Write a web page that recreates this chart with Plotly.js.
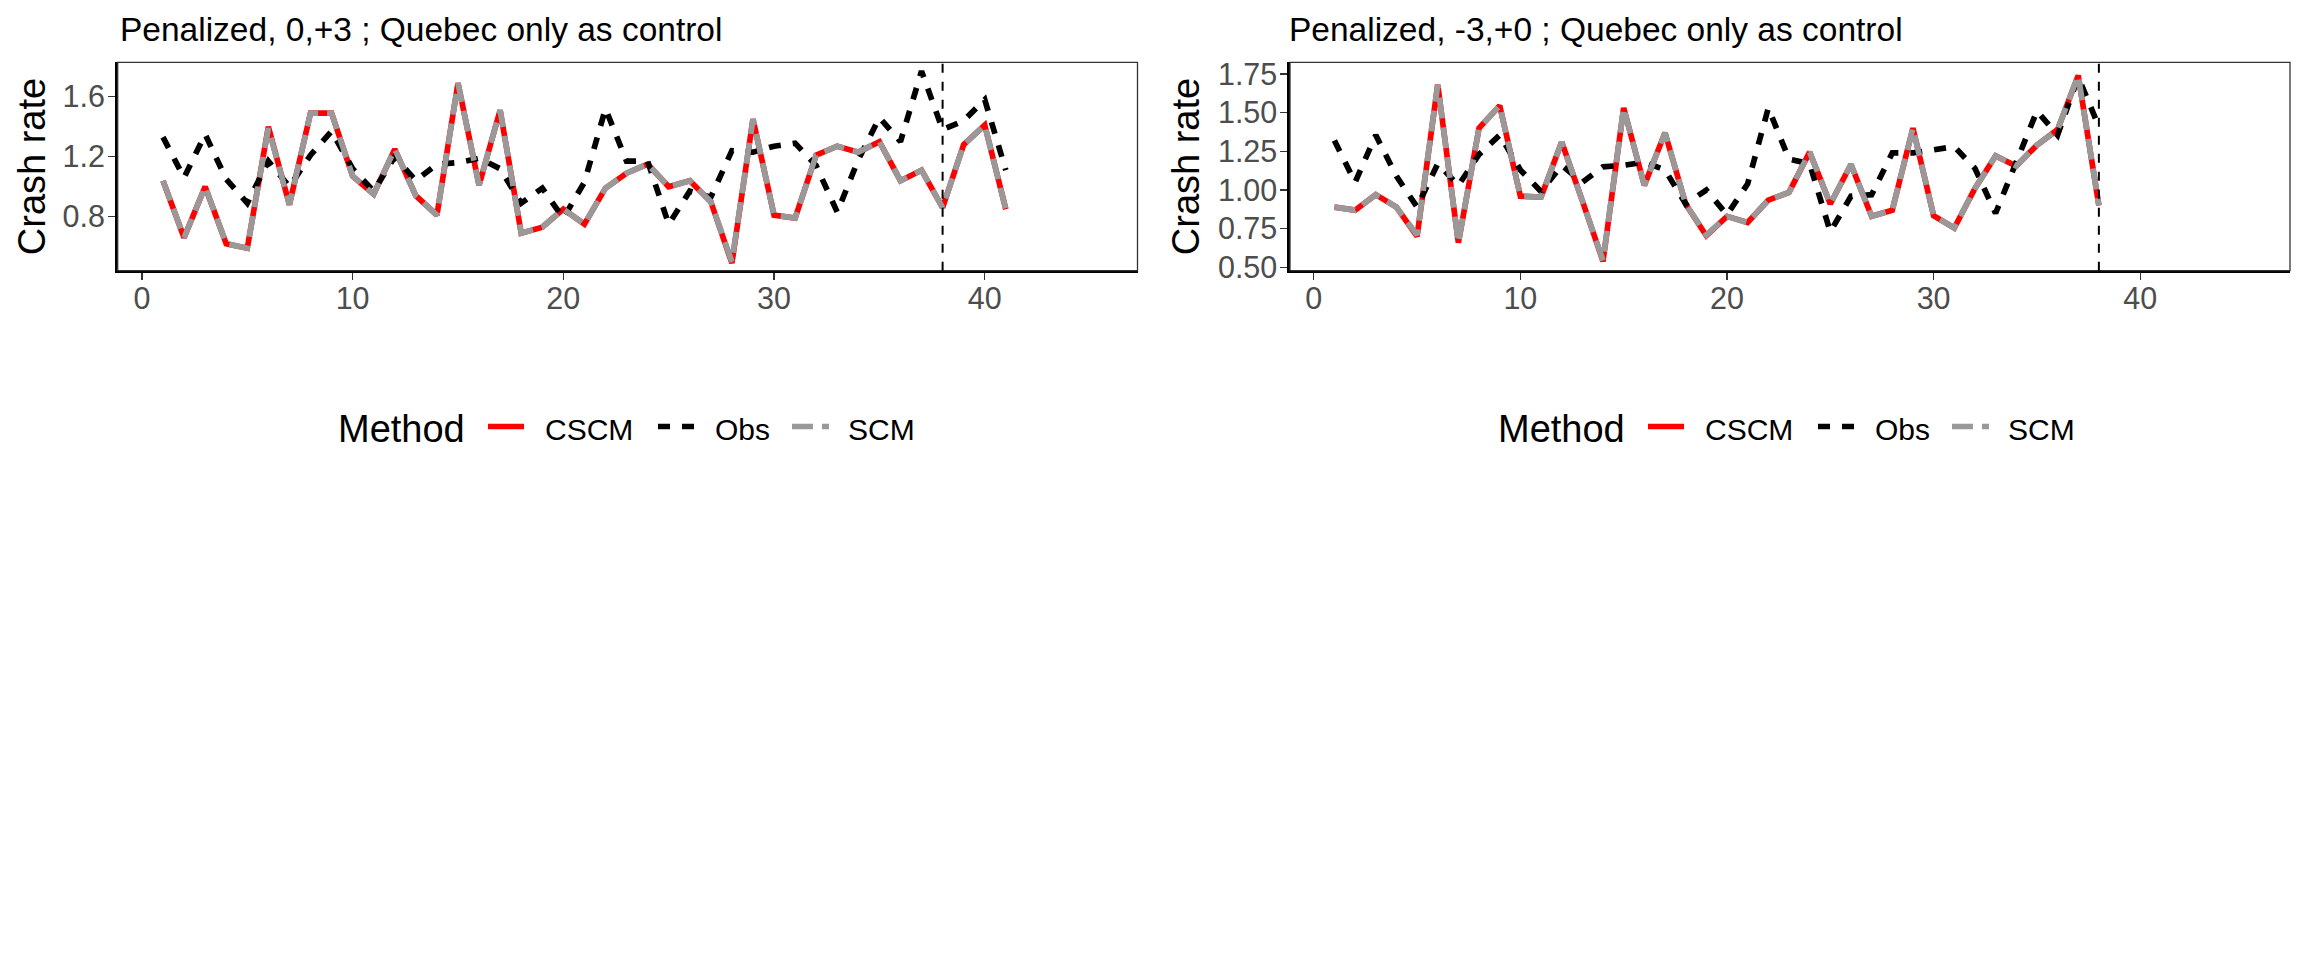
<!DOCTYPE html>
<html>
<head>
<meta charset="utf-8">
<script src="https://cdn.plot.ly/plotly-3.0.1.min.js"></script>
<style>
html,body{margin:0;padding:0;background:#ffffff;}
#chart{width:2304px;height:960px;}
</style>
</head>
<body>
<div id="chart"></div>
<script>
// ---------- data ----------
const titleA = "Penalized, 0,+3 ; Quebec only as control";
const titleB = "Penalized, -3,+0 ; Quebec only as control";
const yTitle = "Crash rate";
const legendTitle = "Method";
const methods = ["CSCM", "Obs", "SCM"];

const timeA = [1,2,3,4,5,6,7,8,9,10,11,12,13,14,15,16,17,18,19,20,21,22,23,24,25,26,27,28,29,30,31,32,33,34,35,36,37,38,39,40,41];
const cscmA = [1.04,0.66,1.00,0.62,0.59,1.40,0.88,1.49,1.49,1.07,0.95,1.25,0.94,0.81,1.69,1.01,1.51,0.69,0.73,0.85,0.75,0.99,1.09,1.15,1.00,1.04,0.90,0.49,1.45,0.81,0.79,1.21,1.27,1.23,1.30,1.04,1.11,0.86,1.28,1.41,0.85];
const obsA  = [1.33,1.06,1.35,1.05,0.89,1.17,1.00,1.21,1.37,1.12,0.97,1.20,1.04,1.15,1.16,1.19,1.12,0.89,0.99,0.79,1.03,1.52,1.17,1.17,0.75,0.97,0.93,1.24,1.23,1.27,1.29,1.14,0.83,1.18,1.46,1.30,1.77,1.38,1.44,1.58,1.11];
const scmA  = [1.04,0.66,1.00,0.62,0.59,1.39,0.88,1.49,1.49,1.07,0.95,1.25,0.94,0.81,1.69,1.01,1.51,0.69,0.73,0.85,0.75,0.99,1.09,1.15,1.00,1.04,0.90,0.50,1.45,0.81,0.79,1.21,1.27,1.23,1.30,1.04,1.11,0.86,1.28,1.41,0.85];

const timeB = [1,2,3,4,5,6,7,8,9,10,11,12,13,14,15,16,17,18,19,20,21,22,23,24,25,26,27,28,29,30,31,32,33,34,35,36,37,38];
const cscmB = [0.89,0.87,0.97,0.89,0.70,1.68,0.66,1.40,1.545,0.96,0.955,1.31,0.93,0.54,1.53,1.03,1.37,0.91,0.705,0.83,0.79,0.935,0.985,1.245,0.91,1.165,0.83,0.87,1.40,0.835,0.755,1.01,1.22,1.155,1.29,1.39,1.74,0.90];
const obsB  = [1.32,1.05,1.355,1.09,0.89,1.17,1.03,1.23,1.355,1.13,0.99,1.16,1.05,1.15,1.16,1.18,1.13,0.91,1.00,0.84,1.04,1.53,1.20,1.17,0.73,0.96,0.97,1.24,1.24,1.26,1.28,1.14,0.85,1.18,1.51,1.355,1.73,1.41];
const scmB  = [0.89,0.87,0.97,0.89,0.71,1.68,0.66,1.40,1.545,0.96,0.955,1.31,0.93,0.545,1.53,1.03,1.37,0.91,0.71,0.83,0.79,0.935,0.985,1.245,0.91,1.165,0.83,0.87,1.40,0.835,0.755,1.01,1.22,1.155,1.29,1.39,1.74,0.90];

const treatTimeA = 38;
const treatTimeB = 38;

const xTicks = [0,10,20,30,40];
const yTicksA = [0.8,1.2,1.6];
const yTicksB = [0.50,0.75,1.00,1.25,1.50,1.75];

// ---------- styling ----------
const FONT = "Liberation Sans, Arial, sans-serif";
const W = 2304, H = 960;
const px = v => v / W;
const py = v => 1 - v / H;

const styles = {
  CSCM: {color: "#FF0000", width: 5.7, dash: "solid"},
  Obs:  {color: "#000000", width: 5.7, dash: "12px,12px"},
  SCM:  {color: "#999999", width: 5.7, dash: "21px,9px"}
};

function series(x, ys, xa, ya) {
  return methods.map((m, i) => ({
    type: "scatter", mode: "lines", name: m,
    x: x, y: ys[i], xaxis: xa, yaxis: ya, showlegend: false,
    line: {color: styles[m].color, width: styles[m].width, dash: styles[m].dash, shape: "linear"},
    hoverinfo: "skip"
  }));
}

const traces = [].concat(
  series(timeA, [cscmA, obsA, scmA], "x", "y"),
  series(timeB, [cscmB, obsB, scmB], "x2", "y2")
);

const yTop = 62.3, yBot = 270.7;
const tickFont = {family: FONT, size: 30.5, color: "#4D4D4D"};
const axX = (dom, anchor) => ({
  domain: dom, anchor: anchor, range: [-1.15, 47.25], tickvals: xTicks, ticktext: xTicks.map(String),
  showgrid: false, zeroline: false, showline: true, linecolor: "#000000", linewidth: 2.6,
  ticks: "outside", ticklen: 7, tickwidth: 1.4, tickcolor: "#333333",
  tickfont: tickFont, ticklabelstandoff: -8, fixedrange: true
});
const axY = (range, ticks, fmt, anchor, standoff) => ({
  domain: [py(yBot), py(yTop)], range: range, tickvals: ticks,
  ticktext: ticks.map(v => v.toFixed(fmt)), anchor: anchor,
  showgrid: false, zeroline: false, showline: true, linecolor: "#000000", linewidth: 2.6,
  ticks: "outside", ticklen: 7, tickwidth: 1.4, tickcolor: "#333333",
  tickfont: tickFont, ticklabelstandoff: -3,
  title: {text: yTitle, font: {family: FONT, size: 38, color: "#000000"}, standoff: standoff},
  fixedrange: true
});

const border = (xr, yr) => ({
  type: "rect", xref: xr + " domain", yref: yr + " domain", x0: 0, x1: 1, y0: 0, y1: 1,
  line: {color: "#333333", width: 1.3}, layer: "above"
});
const vline = (xr, yr, t) => ({
  type: "line", xref: xr, yref: yr + " domain", x0: t, x1: t, y0: 0, y1: 1,
  line: {color: "#000000", width: 2, dash: "9px,9px"}, layer: "above"
});

// manual legend (one per panel), key + label positions in pixels
const legendKeyX = [[488, 524], [658, 694], [792, 829]];
const legendTextX = [545, 715, 848];
const legendTitleX = 338;
const legendOffsets = [0, 1160];
const legendKeyY = 426.5, legendTextY = 429;

const shapes = [border("x", "y"), border("x2", "y2"), vline("x", "y", treatTimeA), vline("x2", "y2", treatTimeB)];
const annotations = [
  {text: titleA, xref: "paper", yref: "paper", x: px(118), y: py(29.5), xanchor: "left", yanchor: "middle",
   showarrow: false, font: {family: FONT, size: 33.5, color: "#000000"}},
  {text: titleB, xref: "paper", yref: "paper", x: px(1287), y: py(29.5), xanchor: "left", yanchor: "middle",
   showarrow: false, font: {family: FONT, size: 33.5, color: "#000000"}}
];
legendOffsets.forEach(off => {
  annotations.push({text: legendTitle, xref: "paper", yref: "paper", x: px(legendTitleX + off - 2), y: py(legendTextY),
    xanchor: "left", yanchor: "middle", showarrow: false, font: {family: FONT, size: 38, color: "#000000"}});
  methods.forEach((m, i) => {
    shapes.push({type: "line", xref: "paper", yref: "paper",
      x0: px(legendKeyX[i][0] + off), x1: px(legendKeyX[i][1] + off), y0: py(legendKeyY), y1: py(legendKeyY),
      line: {color: styles[m].color, width: styles[m].width, dash: styles[m].dash}});
    annotations.push({text: m, xref: "paper", yref: "paper", x: px(legendTextX[i] + off - 2), y: py(legendTextY),
      xanchor: "left", yanchor: "middle", showarrow: false, font: {family: FONT, size: 30, color: "#000000"}});
  });
});

const layout = {
  width: W, height: H,
  margin: {l: 0, r: 0, t: 0, b: 0, autoexpand: false},
  paper_bgcolor: "#ffffff", plot_bgcolor: "#ffffff",
  showlegend: false,
  xaxis: axX([px(117.7), px(1137.5)], "y"),
  xaxis2: axX([px(1290), px(2290)], "y2"),
  yaxis: axY([0.44, 1.829], yTicksA, 1, "x", 6),
  yaxis2: axY([0.479, 1.825], yTicksB, 2, "x2", 7),
  shapes: shapes,
  annotations: annotations,
  hovermode: false
};

Plotly.newPlot("chart", traces, layout, {staticPlot: true, displayModeBar: false});
</script>
</body>
</html>
